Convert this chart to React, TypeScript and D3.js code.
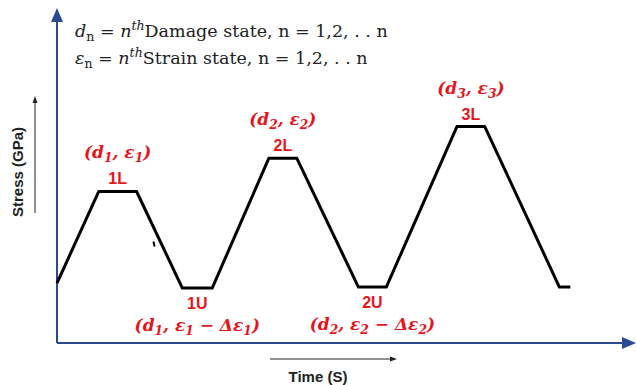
import React from "react";
import * as d3 from "d3";

// loading / unloading path (time in s, stress in GPa, arbitrary units)
const pathTime = [0, 4.2, 8.0, 12.6, 15.6, 21.3, 24.1, 30.3, 33.1, 40.2, 43.0, 50.5, 51.6];
const pathStress = [1.8, 4.55, 4.55, 1.65, 1.65, 5.55, 5.55, 1.68, 1.68, 6.5, 6.5, 1.68, 1.68];

// state labels: top (L) and bottom (U)
const loadNames = ["1L", "2L", "3L"];
const loadIdx = [1, 5, 9];
const unloadNames = ["1U", "2U"];
const unloadIdx = [3, 7];

const W = 636;
const H = 385;
const RED = "#e8141c";
const BLUE = "#2a4a94";

const x = d3.scaleLinear().domain([0, 58]).range([57, 634]);
const y = d3.scaleLinear().domain([0, 10]).range([343, 10]);

const serif = "'DejaVu Serif', 'Liberation Serif', serif";
const sans = "'Liberation Sans', Arial, sans-serif";

function Sub({ children }: { children: React.ReactNode }) {
  return <tspan dy={4} fontSize="0.72em">{children}</tspan>;
}

export default function App() {
  const line = d3
    .line<number>()
    .x((_, i) => x(pathTime[i]))
    .y((_, i) => y(pathStress[i]));
  const d = line(pathTime) || "";

  const midX = (i: number) => (x(pathTime[i]) + x(pathTime[i + 1])) / 2;

  return (
    <svg width={W} height={H} style={{ position: "absolute", left: 0, top: 0 }}>
      <defs>
        <marker id="ab" markerWidth="8" markerHeight="8" refX="4" refY="4" orient="auto">
          <path d="M0,1 L7,4 L0,7 z" fill={BLUE} />
        </marker>
        <marker id="ak" markerWidth="8" markerHeight="8" refX="5" refY="4" orient="auto">
          <path d="M0,1.5 L7,4 L0,6.5 z" fill="#222" />
        </marker>
      </defs>
      <rect width={W} height={H} fill="#fff" />

      {/* axes */}
      <line x1={x(0)} y1={y(0)} x2={x(0)} y2={14} stroke={BLUE} strokeWidth={2} markerEnd="url(#ab)" />
      <line x1={x(0)} y1={y(0)} x2={630} y2={y(0)} stroke={BLUE} strokeWidth={2} markerEnd="url(#ab)" />

      {/* path */}
      <path d={d} fill="none" stroke="#000" strokeWidth={3} strokeLinejoin="round" />
      <path d={`M${x(9.7)},${y(3.05)} l1,5`} stroke="#000" strokeWidth={2} />

      {/* legend text */}
      <g fontFamily={serif} fontSize={17.5} fill="#222">
        <text x={75} y={37}>
          <tspan fontStyle="italic">d</tspan>
          <Sub>n</Sub>
          <tspan dy={-4}> = </tspan>
          <tspan fontStyle="italic">n</tspan>
          <tspan dy={-7} fontSize="0.72em" fontStyle="italic">th</tspan>
          <tspan dy={7}>Damage state, n = 1,2, . . n</tspan>
        </text>
        <text x={75} y={64}>
          <tspan fontStyle="italic">ε</tspan>
          <Sub>n</Sub>
          <tspan dy={-4}> = </tspan>
          <tspan fontStyle="italic">n</tspan>
          <tspan dy={-7} fontSize="0.72em" fontStyle="italic">th</tspan>
          <tspan dy={7}>Strain state, n = 1,2, . . n</tspan>
        </text>
      </g>

      {/* L labels */}
      {loadIdx.map((idx, k) => {
        const cx = midX(idx);
        const top = y(pathStress[idx]);
        return (
          <g key={loadNames[k]} fill={RED} fontWeight="bold" textAnchor="middle">
            <text x={cx} y={top - 33} fontFamily={serif} fontStyle="italic" fontSize={17}>
              (d<Sub>{k + 1}</Sub>
              <tspan dy={-4}>, ε</tspan>
              <Sub>{k + 1}</Sub>
              <tspan dy={-4}>)</tspan>
            </text>
            <text x={cx} y={top - 7} fontFamily={sans} fontSize={16}>
              {loadNames[k]}
            </text>
          </g>
        );
      })}

      {/* U labels */}
      {unloadIdx.map((idx, k) => {
        const cx = midX(idx);
        const bot = y(pathStress[idx]);
        return (
          <g key={unloadNames[k]} fill={RED} fontWeight="bold" textAnchor="middle">
            <text x={cx} y={bot + 21} fontFamily={sans} fontSize={16}>
              {unloadNames[k]}
            </text>
            <text x={cx} y={bot + 43} fontFamily={serif} fontStyle="italic" fontSize={17}>
              (d<Sub>{k + 1}</Sub>
              <tspan dy={-4}>, ε</tspan>
              <Sub>{k + 1}</Sub>
              <tspan dy={-4}> − Δε</tspan>
              <Sub>{k + 1}</Sub>
              <tspan dy={-4}>)</tspan>
            </text>
          </g>
        );
      })}

      {/* axis titles */}
      <line x1={270} y1={359} x2={395} y2={359} stroke="#222" strokeWidth={1} markerEnd="url(#ak)" />
      <text x={318} y={382} textAnchor="middle" fontFamily={sans} fontWeight="bold" fontSize={15} fill="#222">
        Time (S)
      </text>
      <line x1={35} y1={213} x2={35} y2={98} stroke="#222" strokeWidth={1} markerEnd="url(#ak)" />
      <text
        transform="translate(23,172) rotate(-90)"
        textAnchor="middle"
        fontFamily={sans}
        fontWeight="bold"
        fontSize={15}
        fill="#222"
      >
        Stress (GPa)
      </text>
    </svg>
  );
}
